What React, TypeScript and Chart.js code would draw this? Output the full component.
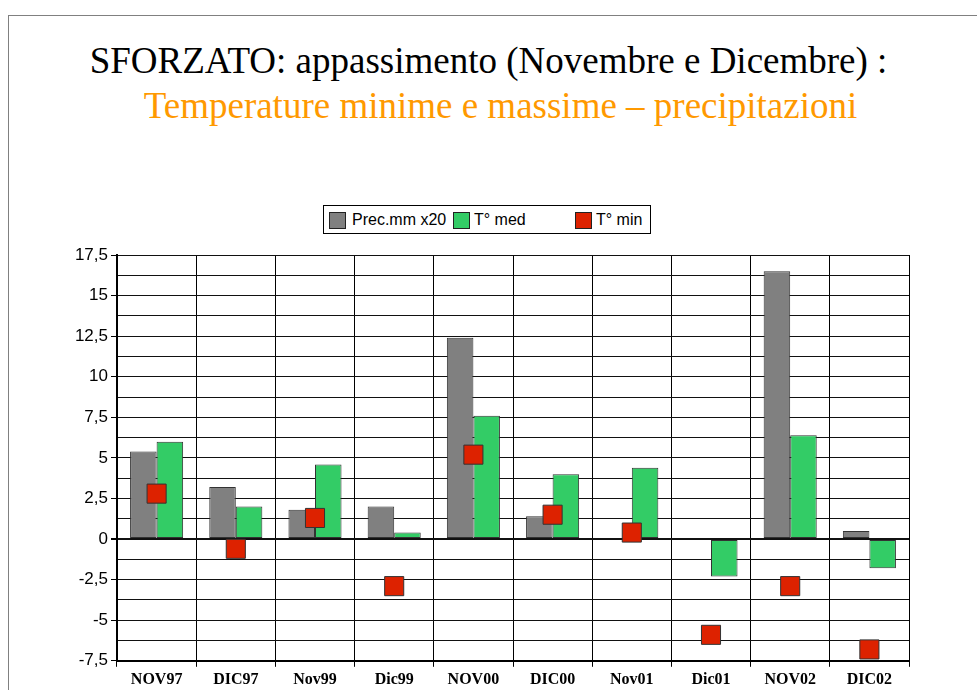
import React, { useEffect, useRef } from "react";
import { Chart, registerables } from "chart.js";

Chart.register(...registerables);

const categories = ["NOV97", "DIC97", "Nov99", "Dic99", "NOV00", "DIC00", "Nov01", "Dic01", "NOV02", "DIC02"];
const precX20 = [5.4, 3.2, 1.8, 2.0, 12.4, 1.4, 0, 0, 16.5, 0.5];
const tMed = [6.0, 2.0, 4.6, 0.4, 7.6, 4.0, 4.4, -2.3, 6.4, -1.8];
const tMin = [2.8, -0.6, 1.3, -2.9, 5.2, 1.5, 0.4, -5.9, -2.9, -6.8];

const seriesLabels = ["Prec.mm x20", "T° med", "T° min"];
const titleLine1 = "SFORZATO: appassimento (Novembre e Dicembre) :";
const titleLine2 = "Temperature minime e massime – precipitazioni";

const GRAY = "#808080";
const GREEN = "#33CC66";
const RED = "#DD2200";

export default function App() {
  const canvasRef = useRef<HTMLCanvasElement | null>(null);

  useEffect(() => {
    if (!canvasRef.current) return;
    const chart = new Chart(canvasRef.current, {
      type: "bar",
      data: {
        labels: categories,
        datasets: [
          {
            type: "bar",
            label: seriesLabels[0],
            data: precX20,
            backgroundColor: GRAY,
            borderColor: "#333333",
            borderWidth: 1,
            borderSkipped: false,
            order: 2,
          },
          {
            type: "bar",
            label: seriesLabels[1],
            data: tMed,
            backgroundColor: GREEN,
            borderColor: "#333333",
            borderWidth: 1,
            borderSkipped: false,
            order: 2,
          },
          {
            type: "line",
            label: seriesLabels[2],
            data: tMin,
            showLine: false,
            pointStyle: "rect",
            pointRadius: 13.5,
            pointHoverRadius: 13.5,
            pointBackgroundColor: RED,
            pointBorderColor: "#333333",
            pointBorderWidth: 1,
            backgroundColor: RED,
            borderColor: "#333333",
            order: 0,
          } as any,
        ],
      },
      options: {
        animation: false,
        responsive: false,
        maintainAspectRatio: false,
        layout: { padding: { left: 0, right: 68, top: 15, bottom: 2 } },
        datasets: {
          bar: { categoryPercentage: 0.67, barPercentage: 1.0 },
        },
        plugins: {
          legend: { display: false },
          tooltip: { enabled: false },
        },
        scales: {
          x: {
            offset: true,
            grid: {
              offset: true,
              color: "#000000",
              lineWidth: 1,
              tickLength: 6,
              tickColor: "#000000",
            },
            border: { display: true, color: "#000000", width: 2 },
            ticks: {
              color: "#000000",
              padding: 3,
              font: { family: "'Liberation Serif', 'Times New Roman', serif", size: 16, weight: "bold" },
            },
          },
          y: {
            min: -7.5,
            max: 17.5,
            afterFit: (scale: any) => {
              scale.width = 117;
            },
            grid: {
              color: "#111111",
              lineWidth: (ctx: any) => (ctx.tick && ctx.tick.value === 0 ? 2 : 1),
              tickLength: 6,
              tickColor: (ctx: any) =>
                ctx.tick && Math.abs(ctx.tick.value / 2.5 - Math.round(ctx.tick.value / 2.5)) < 1e-6
                  ? "#000000"
                  : "rgba(0,0,0,0)",
            },
            border: { display: true, color: "#000000", width: 2 },
            ticks: {
              stepSize: 1.25,
              autoSkip: false,
              color: "#000000",
              padding: 3,
              font: { family: "'Liberation Sans', Arial, sans-serif", size: 17 },
              callback: (value: any) => {
                const v = Number(value);
                if (Math.abs(v / 2.5 - Math.round(v / 2.5)) > 1e-6) return "";
                return String(v).replace(".", ",");
              },
            },
          },
        },
      },
    });
    return () => chart.destroy();
  }, []);

  const legendText: React.CSSProperties = {
    position: "absolute",
    top: 0,
    height: 29,
    lineHeight: "27px",
    fontFamily: "'Liberation Sans', Arial, sans-serif",
    fontSize: 16,
    color: "#000",
    whiteSpace: "nowrap",
  };
  const swatch = (left: number, color: string): React.CSSProperties => ({
    position: "absolute",
    left,
    top: 6,
    width: 17,
    height: 17,
    boxSizing: "border-box",
    border: "1px solid #222",
    background: color,
  });

  return (
    <div
      style={{
        position: "fixed",
        left: 0,
        top: 0,
        width: 977,
        height: 690,
        background: "#fff",
        overflow: "hidden",
      }}
    >
      <div
        style={{
          position: "absolute",
          left: 8,
          top: 15,
          width: 1000,
          height: 700,
          borderTop: "1px solid #808080",
          borderLeft: "1px solid #808080",
        }}
      />
      <div
        style={{
          position: "absolute",
          left: 0,
          top: 38,
          width: 977,
          textAlign: "center",
          fontFamily: "'Liberation Serif', 'Times New Roman', serif",
          fontSize: 37,
          lineHeight: "45px",
          color: "#000",
          whiteSpace: "nowrap",
        }}
      >
        {titleLine1}
      </div>
      <div
        style={{
          position: "absolute",
          left: 12,
          top: 83,
          width: 977,
          textAlign: "center",
          fontFamily: "'Liberation Serif', 'Times New Roman', serif",
          fontSize: 37,
          lineHeight: "45px",
          color: "#FF9900",
          whiteSpace: "nowrap",
        }}
      >
        {titleLine2}
      </div>
      <div
        style={{
          position: "absolute",
          left: 323,
          top: 205,
          width: 328,
          height: 29,
          boxSizing: "border-box",
          border: "1px solid #000",
          background: "#fff",
        }}
      >
        <div style={swatch(5, GRAY)} />
        <div style={{ ...legendText, left: 28 }}>{seriesLabels[0]}</div>
        <div style={swatch(129, GREEN)} />
        <div style={{ ...legendText, left: 150 }}>{seriesLabels[1]}</div>
        <div style={swatch(251, RED)} />
        <div style={{ ...legendText, left: 272 }}>{seriesLabels[2]}</div>
      </div>
      <canvas
        ref={canvasRef}
        width={977}
        height={454}
        style={{ position: "absolute", left: 0, top: 240, width: 977, height: 454 }}
      />
    </div>
  );
}
